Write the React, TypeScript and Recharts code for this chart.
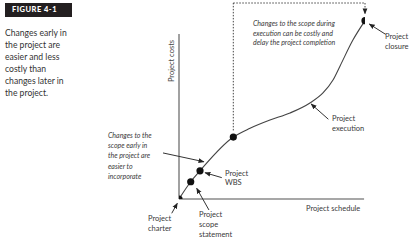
import { ComposedChart, Line, Scatter, XAxis, YAxis, ReferenceLine } from "recharts";

// schedule (x) and cost (y), both on a 0-100 scale
const curveSchedule = [0, 6.3, 11.3, 29.2, 38.2, 48.9, 59.7, 70.4, 77.4, 82.8, 86.6, 93.5, 100];
const curveCost = [0, 8.8, 14.4, 31.6, 36.1, 40.3, 43.9, 49.0, 54.1, 60.7, 67.9, 81.1, 91.0];

const milestoneNames = ["Project charter", "Project scope statement", "Project WBS", "Project execution", "Project closure"];
const milestoneSchedule = [0, 6.3, 11.3, 29.2, 100];
const milestoneCost = [0, 8.8, 14.4, 31.6, 91.0];

const captionLines = ["Changes early in", "the project are", "easier and less", "costly than", "changes later in", "the project."];

const curveData = curveSchedule.map((x, i) => ({ x, y: curveCost[i] }));
const milestoneData = milestoneSchedule.map((x, i) => ({ x, y: milestoneCost[i], name: milestoneNames[i] }));

// callout arrows, tail -> head, in chart units
const arrows = [
  { from: [111.1, 84.0], to: [102.3, 89.3] },
  { from: [80.3, 40.7], to: [71.0, 48.5] },
  { from: [23.0, 10.9], to: [14.0, 13.4] },
  { from: [16.1, -5.6], to: [9.5, 5.5] },
  { from: [-3.9, -7.3], to: [-0.9, -2.2] },
  { from: [-8.6, 23.5], to: [13.4, 19.0] },
];

// dotted path from execution start up and over to closure
const dotted = [
  [29.2, 35],
  [29.2, 100],
  [100, 100],
  [100, 94.5],
];

const labels = [
  { lines: ["Changes to the scope during", "execution can be costly and", "delay the project completion"], left: 253, top: 19, lh: 9.5, italic: true },
  { lines: ["Project", "closure"], left: 385, top: 32, lh: 9.5 },
  { lines: ["Project", "execution"], left: 332, top: 114, lh: 10 },
  { lines: ["Changes to the", "scope early in", "the project are", "easier to", "incorporate"], left: 108, top: 130, lh: 10.2, italic: true },
  { lines: ["Project", "WBS"], left: 225, top: 168.5, lh: 9.5 },
  { lines: ["Project", "scope", "statement"], left: 199, top: 210, lh: 10 },
  { lines: ["Project", "charter"], left: 148, top: 213.5, lh: 10 },
  { lines: ["Project schedule"], left: 306, top: 204, lh: 10 },
];

const font = "Lato, 'Open Sans', sans-serif";

const arrowLine = (p: any) => (
  <line x1={p.x1} y1={p.y1} x2={p.x2} y2={p.y2} stroke="#333" strokeWidth={1} markerEnd="url(#arrowHead)" />
);

const dotShape = (p: any) => <circle cx={p.cx} cy={p.cy} r={3.6} fill="#111" />;

export default function App() {
  return (
    <div style={{ position: "absolute", left: 0, top: 0, width: 417, height: 240, background: "#fff", fontFamily: font }}>
      <svg width={0} height={0} style={{ position: "absolute" }}>
        <defs>
          <marker id="arrowHead" viewBox="0 0 10 10" refX={9} refY={5} markerWidth={6} markerHeight={6} orient="auto">
            <path d="M0,1 L10,5 L0,9 z" fill="#222" />
          </marker>
        </defs>
      </svg>

      <ComposedChart width={417} height={240} margin={{ top: 3, right: 52, left: 179, bottom: 41 }}>
        <XAxis dataKey="x" type="number" domain={[0, 100]} allowDataOverflow hide />
        <YAxis dataKey="y" type="number" domain={[0, 100]} allowDataOverflow hide />
        {/* axes */}
        <ReferenceLine segment={[{ x: 0, y: 0 }, { x: 0, y: 84.2 }]} stroke="#8a8a8a" strokeWidth={1.6} ifOverflow="visible" />
        <ReferenceLine segment={[{ x: 0, y: 0 }, { x: 99.5, y: 0 }]} stroke="#8a8a8a" strokeWidth={1.6} ifOverflow="visible" />
        {dotted.slice(1).map((pt, i) => (
          <ReferenceLine
            key={"d" + i}
            segment={[{ x: dotted[i][0], y: dotted[i][1] }, { x: pt[0], y: pt[1] }]}
            ifOverflow="visible"
            shape={(p: any) => (
              <line
                x1={p.x1}
                y1={p.y1}
                x2={p.x2}
                y2={p.y2}
                stroke="#444"
                strokeWidth={1}
                strokeDasharray="1.5 1.5"
                markerEnd={i === dotted.length - 2 ? "url(#arrowHead)" : undefined}
              />
            )}
          />
        ))}
        {arrows.map((a, i) => (
          <ReferenceLine
            key={"a" + i}
            segment={[{ x: a.from[0], y: a.from[1] }, { x: a.to[0], y: a.to[1] }]}
            ifOverflow="visible"
            shape={arrowLine}
          />
        ))}
        <Line data={curveData} dataKey="y" type="monotone" stroke="#444" strokeWidth={1.1} dot={false} isAnimationActive={false} />
        <Scatter data={milestoneData} dataKey="y" shape={dotShape} isAnimationActive={false} />
      </ComposedChart>

      <div
        style={{
          position: "absolute",
          left: 5,
          top: 3,
          width: 67,
          height: 14,
          background: "#231f20",
          color: "#fff",
          fontWeight: 900,
          fontSize: 7.5,
          letterSpacing: 0.5,
          lineHeight: "14px",
          paddingLeft: 7,
          boxSizing: "border-box",
        }}
      >
        FIGURE 4-1
      </div>
      <div style={{ position: "absolute", left: 5, top: 27, fontSize: 8.6, lineHeight: "12px", color: "#333" }}>
        {captionLines.map((l) => (
          <div key={l}>{l}</div>
        ))}
      </div>
      <div
        style={{
          position: "absolute",
          left: 142,
          top: 56,
          width: 60,
          height: 10,
          lineHeight: "10px",
          fontSize: 7.5,
          color: "#444",
          textAlign: "center",
          transform: "rotate(-90deg)",
        }}
      >
        Project costs
      </div>
      {labels.map((lb, i) => (
        <div
          key={i}
          style={{
            position: "absolute",
            left: lb.left,
            top: lb.top,
            fontSize: lb.italic ? 7 : 7.5,
            lineHeight: lb.lh + "px",
            fontStyle: lb.italic ? "italic" : "normal",
            color: "#3a3a3a",
            whiteSpace: "nowrap",
          }}
        >
          {lb.lines.map((l) => (
            <div key={l}>{l}</div>
          ))}
        </div>
      ))}
    </div>
  );
}
